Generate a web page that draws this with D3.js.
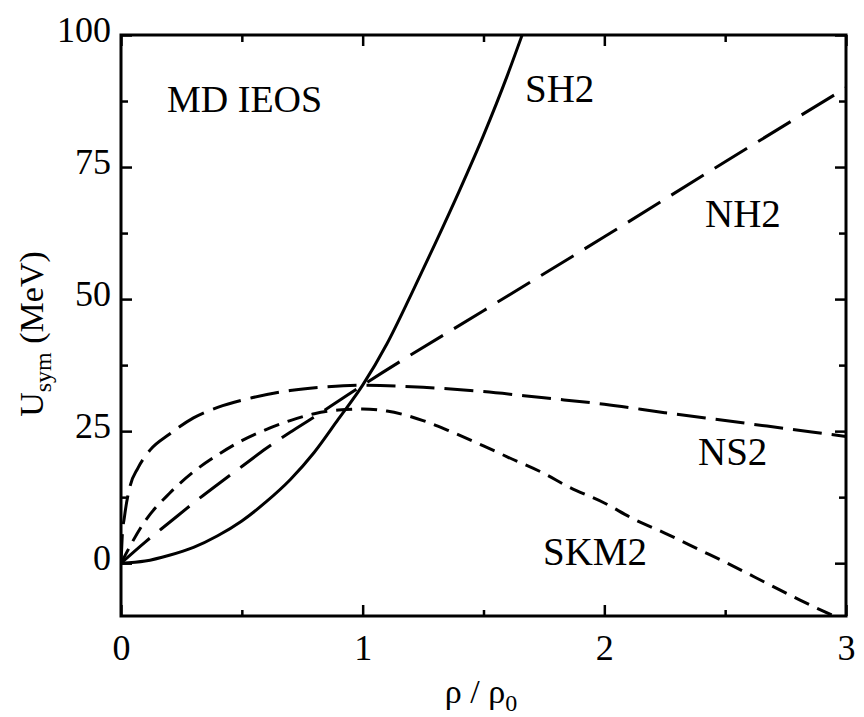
<!DOCTYPE html>
<html>
<head>
<meta charset="utf-8">
<script src="https://cdn.jsdelivr.net/npm/d3@7/dist/d3.min.js"></script>
<style>
  html, body { margin: 0; padding: 0; background: #fff; }
  svg { display: block; font-family: "Liberation Serif", "Times New Roman", serif; }
</style>
</head>
<body>
<svg id="chart" width="864" height="717"></svg>
<script>
// ---- data ----
const xTicksMajor = [0, 1, 2, 3];
const xTicksMinor = [0.5, 1.5, 2.5];
const yTicksMajor = [0, 25, 50, 75, 100];
const yTicksMinor = [12.5, 37.5, 62.5, 87.5];

const sh2Rho = [0, 0.1, 0.2, 0.3, 0.4, 0.5, 0.6, 0.7, 0.8, 0.9, 1.0, 1.1, 1.2, 1.3, 1.4, 1.5, 1.6, 1.66];
const sh2U   = [0, 0.4, 1.5, 3.0, 5.2, 8.0, 11.6, 15.8, 21.0, 27.3, 33.7, 41.5, 50.8, 60.5, 70.5, 81.0, 92.5, 100];

const nh2Rho = [0, 0.1, 0.2, 0.3, 0.4, 0.5, 0.6, 0.7, 0.8, 0.9, 1.0, 1.5, 2.0, 2.5, 3.0];
const nh2U   = [0, 4.0, 7.7, 11.4, 14.9, 18.3, 21.7, 24.8, 27.7, 30.7, 33.7, 47.8, 61.8, 76.0, 90.0];

const ns2Rho = [0, 0.005, 0.015, 0.037, 0.07, 0.12, 0.2, 0.3, 0.4, 0.55, 0.7, 0.85, 1.0, 1.25, 1.5, 1.75, 2.0, 2.25, 2.5, 2.75, 3.0];
const ns2U   = [0, 5.0, 9.0, 14.5, 18.0, 21.4, 24.4, 27.5, 29.5, 31.4, 32.7, 33.4, 33.7, 33.3, 32.5, 31.3, 30.1, 28.5, 27.0, 25.5, 24.0];

const skm2Rho = [0, 0.1, 0.2, 0.3, 0.4, 0.5, 0.6, 0.7, 0.8, 0.9, 1.0, 1.1, 1.25, 1.35, 1.5, 1.6, 1.75, 1.85, 2.0, 2.12, 2.25, 2.4, 2.5, 2.685, 2.81, 2.95];
const skm2U   = [0, 8.0, 13.2, 17.3, 20.5, 23.2, 25.3, 27.0, 28.3, 29.0, 29.2, 28.8, 27.0, 25.2, 22.2, 20.1, 17.0, 14.5, 11.4, 8.4, 5.7, 2.4, 0.2, -4.1, -7.0, -10.0];

const curveNames = ["SH2", "NH2", "NS2", "SKM2"];

// ---- layout ----
const svg = d3.select("#chart");
const pL = 121, pR = 846, pT = 35, pB = 616;
const x = d3.scaleLinear().domain([0, 3]).range([pL, pR]);
const y = d3.scaleLinear().domain([-10, 100]).range([pB, pT]);

const series = [
  { name: "SH2",  rho: sh2Rho,  u: sh2U,  dash: null },
  { name: "NH2",  rho: nh2Rho,  u: nh2U,  dash: "38,13" },
  { name: "NS2",  rho: ns2Rho,  u: ns2U,  dash: "29,10" },
  { name: "SKM2", rho: skm2Rho, u: skm2U, dash: "16,9" }
];

svg.append("defs").append("clipPath").attr("id", "plotclip")
  .append("rect").attr("x", pL).attr("y", pT)
  .attr("width", pR - pL).attr("height", pB - pT);

const line = d3.line()
  .x(d => x(d[0])).y(d => y(d[1]))
  .curve(d3.curveMonotoneX);

const g = svg.append("g").attr("clip-path", "url(#plotclip)");
series.forEach(s => {
  const pts = s.rho.map((r, i) => [r, s.u[i]]);
  g.append("path")
    .datum(pts)
    .attr("d", line)
    .attr("fill", "none")
    .attr("stroke", "#000")
    .attr("stroke-width", 3)
    .attr("stroke-dasharray", s.dash);
});

// ---- axes ----
function styleAxis(sel) {
  sel.select(".domain").remove();
  sel.selectAll(".tick line").attr("stroke", "#000").attr("stroke-width", 2.5);
  sel.selectAll(".tick text").attr("fill", "#000").attr("font-size", 36)
     .attr("font-family", "'Liberation Serif', 'Times New Roman', serif");
}

// left
const leftMajor = svg.append("g").attr("transform", `translate(${pL},0)`)
  .call(d3.axisLeft(y).tickValues(yTicksMajor).tickSize(-11).tickPadding(10).tickFormat(d3.format("d")));
styleAxis(leftMajor);
leftMajor.selectAll(".tick text").attr("dy", "0.18em");
const leftMinor = svg.append("g").attr("transform", `translate(${pL},0)`)
  .call(d3.axisLeft(y).tickValues(yTicksMinor).tickSize(-7).tickFormat(""));
styleAxis(leftMinor);

// right
const rightMajor = svg.append("g").attr("transform", `translate(${pR},0)`)
  .call(d3.axisRight(y).tickValues(yTicksMajor).tickSize(-11).tickFormat(""));
styleAxis(rightMajor);
const rightMinor = svg.append("g").attr("transform", `translate(${pR},0)`)
  .call(d3.axisRight(y).tickValues(yTicksMinor).tickSize(-7).tickFormat(""));
styleAxis(rightMinor);

// bottom
const bottomMajor = svg.append("g").attr("transform", `translate(0,${pB})`)
  .call(d3.axisBottom(x).tickValues(xTicksMajor).tickSize(-11).tickFormat(d3.format("d")));
styleAxis(bottomMajor);
bottomMajor.selectAll(".tick text").attr("dy", null).attr("y", 44);
const bottomMinor = svg.append("g").attr("transform", `translate(0,${pB})`)
  .call(d3.axisBottom(x).tickValues(xTicksMinor).tickSize(-6).tickFormat(""));
styleAxis(bottomMinor);

// top
const topMajor = svg.append("g").attr("transform", `translate(0,${pT})`)
  .call(d3.axisTop(x).tickValues(xTicksMajor).tickSize(-11).tickFormat(""));
styleAxis(topMajor);
const topMinor = svg.append("g").attr("transform", `translate(0,${pT})`)
  .call(d3.axisTop(x).tickValues(xTicksMinor).tickSize(-7).tickFormat(""));
styleAxis(topMinor);

// frame
svg.append("rect")
  .attr("x", pL).attr("y", pT)
  .attr("width", pR - pL).attr("height", pB - pT)
  .attr("fill", "none").attr("stroke", "#000").attr("stroke-width", 3);

// ---- titles ----
const xt = svg.append("text")
  .attr("x", 481).attr("y", 703)
  .attr("text-anchor", "middle")
  .attr("font-size", 34);
xt.append("tspan").text("ρ / ρ");
xt.append("tspan").attr("font-size", 24).attr("dy", 8).text("0");

const yt = svg.append("text")
  .attr("transform", "translate(43,334) rotate(-90)")
  .attr("text-anchor", "middle")
  .attr("font-size", 34);
yt.append("tspan").text("U");
yt.append("tspan").attr("font-size", 24).attr("dy", 8).text("sym");
yt.append("tspan").attr("dy", -8).text(" (MeV)");

// ---- in-plot labels ----
svg.append("text").attr("x", 167).attr("y", 112).attr("font-size", 38).text("MD IEOS");
const labelPos = [
  { name: curveNames[0], px: 525, py: 102 },
  { name: curveNames[1], px: 705, py: 227 },
  { name: curveNames[2], px: 698, py: 465 },
  { name: curveNames[3], px: 543, py: 565 }
];
labelPos.forEach(l => {
  svg.append("text").attr("x", l.px).attr("y", l.py).attr("font-size", 39).text(l.name);
});
</script>
</body>
</html>
